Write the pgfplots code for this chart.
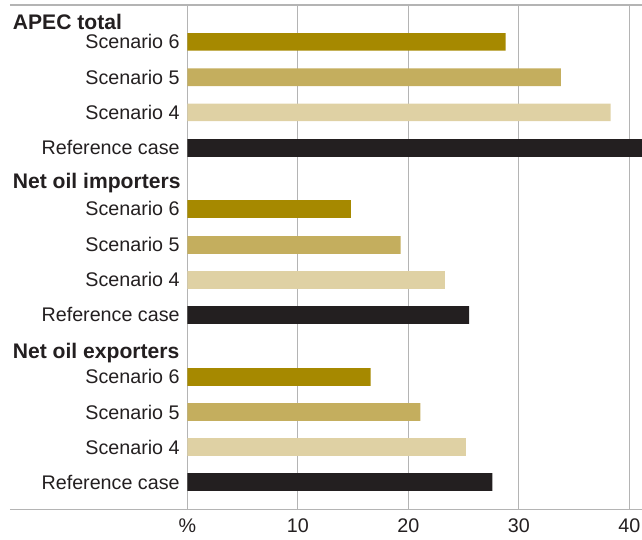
\documentclass[border=0pt]{standalone}
\usepackage{fontspec}
\setmainfont{Liberation Sans}
\usepackage{pgfplots}
\pgfplotsset{compat=1.18}
\definecolor{sixc}{RGB}{166,137,0}
\definecolor{fivec}{RGB}{196,174,94}
\definecolor{fourc}{RGB}{223,209,164}
\definecolor{refc}{RGB}{35,31,32}
\definecolor{gridc}{RGB}{180,180,180}
\definecolor{txtc}{RGB}{35,31,32}
\begin{document}
\begin{tikzpicture}
\begin{axis}[
  scale only axis,
  width=454.7bp, height=504.5bp,
  xmin=0, xmax=41.15,
  ymin=5, ymax=509.5, y dir=reverse,
  clip=true, clip mode=individual,
  axis line style={draw=none},
  major tick length=0pt,
  xtick={0,10,20,30,40},
  xticklabels={\%,10,20,30,40},
  xmajorgrids,
  grid style={gridc, line width=0.9bp},
  ytick={41.9,77.2,112.4,147.9,208.9,244.9,279.9,314.9,376.9,412,447,482},
  yticklabels={Scenario 6,Scenario 5,Scenario 4,Reference case,Scenario 6,Scenario 5,Scenario 4,Reference case,Scenario 6,Scenario 5,Scenario 4,Reference case},
  yticklabel style={anchor=east, inner sep=0pt, xshift=-7.5bp, font=\fontsize{19.7bp}{22bp}\selectfont, text=txtc},
  xticklabel style={anchor=north, inner sep=0pt, yshift=-9bp, font=\fontsize{19.7bp}{22bp}\selectfont, text=txtc},
  xbar, bar width=17.7, bar shift=0pt,
]
\addplot[draw=none, fill=sixc] coordinates {(28.8,41.9) (14.8,208.9) (16.6,376.9)};
\addplot[draw=none, fill=fivec] coordinates {(33.8,77.2) (19.3,244.9) (21.1,412)};
\addplot[draw=none, fill=fourc] coordinates {(38.3,112.4) (23.3,279.9) (25.2,447)};
\addplot[draw=none, fill=refc] coordinates {(42,147.9) (25.5,314.9) (27.6,482)};
\draw[gridc, line width=1.1bp] (axis cs:-16.05,5) -- (axis cs:41.15,5);
\draw[gridc, line width=1.1bp] (axis cs:-16.05,509.5) -- (axis cs:41.15,509.5);
\node[anchor=base west, inner sep=0pt, font=\fontsize{21.1bp}{23bp}\selectfont\bfseries, text=txtc] at (axis cs:-15.8,30) {APEC total};
\node[anchor=base west, inner sep=0pt, font=\fontsize{21.1bp}{23bp}\selectfont\bfseries, text=txtc] at (axis cs:-15.8,188) {Net oil importers};
\node[anchor=base west, inner sep=0pt, font=\fontsize{21.1bp}{23bp}\selectfont\bfseries, text=txtc] at (axis cs:-15.8,358) {Net oil exporters};
\coordinate (bbA) at (axis cs:-16.95,540);
\coordinate (bbB) at (axis cs:41.15,0);
\end{axis}
\pgfresetboundingbox
\path[use as bounding box] (bbA) rectangle (bbB);
\end{tikzpicture}
\end{document}
